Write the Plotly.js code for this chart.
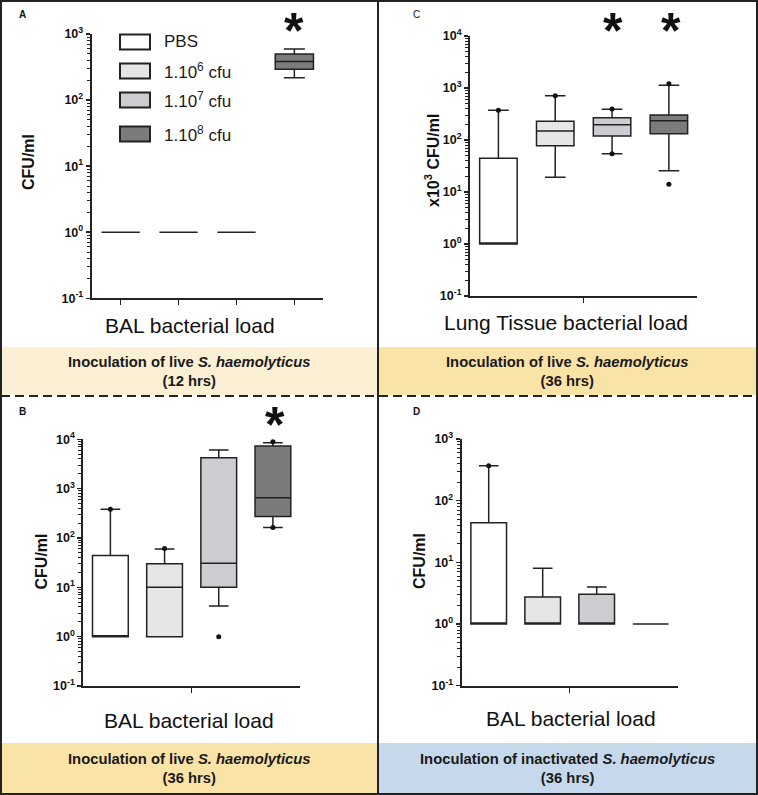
<!DOCTYPE html>
<html>
<head>
<meta charset="utf-8">
<script src="https://cdn.plot.ly/plotly-3.0.1.min.js"></script>
<style>
html,body{margin:0;padding:0;background:#fff;}
#chart{width:758px;height:795px;}
</style>
</head>
<body>
<div id="chart"></div>
<script>
// ---------- DATA ----------
const groups = ['PBS', '1.10<sup>6</sup> cfu', '1.10<sup>7</sup> cfu', '1.10<sup>8</sup> cfu'];
const groupColors = ['#FFFFFF', '#E6E6E6', '#CDCDD1', '#7B7B7B'];
const groupPos = [0, 1, 2, 3];

// Panel A: BAL, live, 12 hrs
const aQ1 = [1, 1, 1, 292];
const aMedian = [1, 1, 1, 385];
const aQ3 = [1, 1, 1, 497];
const aLow = [1, 1, 1, 218];
const aHigh = [1, 1, 1, 593];
const aDotX = [];
const aDotY = [];

// Panel B: BAL, live, 36 hrs
const bQ1 = [1, 1, 10, 274];
const bMedian = [1, 10, 30.6, 653];
const bQ3 = [44.4, 30, 4236, 7310];
const bLow = [1, 1, 4.2, 163];
const bHigh = [380, 59.6, 6070, 8500];
const bDotX = [0, 1, 2, 3, 3];
const bDotY = [380, 61, 1, 8900, 163];

// Panel C: lung tissue, live, 36 hrs (x10^3 CFU/ml)
const cQ1 = [1, 77.6, 119, 132];
const cMedian = [1, 149, 197, 235];
const cQ3 = [44.5, 229, 268, 302];
const cLow = [1, 19.2, 54.6, 25.7];
const cHigh = [373, 711, 389, 1127];
const cDotX = [0, 1, 2, 2, 3, 3];
const cDotY = [373, 711, 395, 54.6, 1211, 14.1];

// Panel D: BAL, inactivated, 36 hrs
const dQ1 = [1, 1, 1, 1];
const dMedian = [1, 1, 1, 1];
const dQ3 = [44, 2.75, 3.04, 1];
const dLow = [1, 1, 1, 1];
const dHigh = [370, 8, 4, 1];
const dDotX = [0];
const dDotY = [370];

const yTickValsA = [0.1, 1, 10, 100, 1000];
const yTickValsB = [0.1, 1, 10, 100, 1000, 10000];
const yTickText = ['10<sup>-1</sup>', '10<sup>0</sup>', '10<sup>1</sup>', '10<sup>2</sup>', '10<sup>3</sup>', '10<sup>4</sup>'];

// ---------- LAYOUT HELPERS ----------
const W = 758, H = 795;
const px = x => x / W;
const py = y => 1 - y / H;
const FONT = 'Liberation Sans, Arial, Helvetica, sans-serif';
const INK = '#222';

function minorVals(lo, hi) {
  const v = [];
  for (let k = lo; k < hi; k++) for (let m = 2; m <= 9; m++) v.push(m * Math.pow(10, k));
  return v;
}

const traces = [];
function addPanel(ax, q1, med, q3, lo, hi, dotX, dotY) {
  groupPos.forEach((g, i) => {
    traces.push({
      type: 'box', x: [g], q1: [q1[i]], median: [med[i]], q3: [q3[i]],
      lowerfence: [lo[i]], upperfence: [hi[i]],
      xaxis: 'x' + ax, yaxis: 'y' + ax,
      fillcolor: groupColors[i], line: {color: INK, width: 1.5},
      width: 0.66, whiskerwidth: 0.55, boxpoints: false,
      showlegend: false, hoverinfo: 'skip'
    });
  });
  if (dotX.length) {
    traces.push({
      type: 'scatter', mode: 'markers', x: dotX, y: dotY,
      xaxis: 'x' + ax, yaxis: 'y' + ax,
      marker: {color: '#111', size: 5}, showlegend: false, hoverinfo: 'skip', cliponaxis: false
    });
  }
}
addPanel('', aQ1, aMedian, aQ3, aLow, aHigh, aDotX, aDotY);
addPanel('2', cQ1, cMedian, cQ3, cLow, cHigh, cDotX, cDotY);
addPanel('3', bQ1, bMedian, bQ3, bLow, bHigh, bDotX, bDotY);
addPanel('4', dQ1, dMedian, dQ3, dLow, dHigh, dDotX, dDotY);

function xAxis(x0, x1, tickvals, anchor) {
  return {
    domain: [px(x0), px(x1)], range: [-0.5, 3.5], anchor: anchor,
    showgrid: false, zeroline: false, showline: true, linecolor: INK, linewidth: 2,
    ticks: 'outside', ticklen: 5, tickwidth: 1.5, tickcolor: INK,
    tickmode: 'array', tickvals: tickvals, showticklabels: false, fixedrange: true
  };
}
function yAxis(yTop, yBot, maxExp, anchor) {
  const tv = maxExp === 4 ? yTickValsB : yTickValsA;
  return {
    domain: [py(yBot), py(yTop)], type: 'log', range: [-1, maxExp], anchor: anchor,
    showgrid: false, zeroline: false, showline: true, linecolor: INK, linewidth: 2,
    ticks: 'outside', ticklen: 4, tickwidth: 1.5, tickcolor: INK,
    tickmode: 'array', tickvals: tv, ticktext: yTickText.slice(0, tv.length),
    tickfont: {family: FONT, size: 12.5, color: '#111', weight: 'bold'},
    minor: {tickmode: 'array', tickvals: minorVals(-1, maxExp), ticks: 'outside', ticklen: 3, tickwidth: 1, tickcolor: INK, showgrid: false},
    fixedrange: true
  };
}

const shapes = [];
const annotations = [];
function rect(x0, y0, x1, y1, fill, lineW, layer) {
  shapes.push({type: 'rect', xref: 'paper', yref: 'paper', x0: px(x0), x1: px(x1), y0: py(y1), y1: py(y0),
    fillcolor: fill, line: {width: lineW || 0, color: INK}, layer: layer || 'below'});
}
function text(t, x, y, opts) {
  annotations.push(Object.assign({text: t, x: px(x), y: py(y), xref: 'paper', yref: 'paper', showarrow: false,
    xanchor: 'center', yanchor: 'middle', font: {family: FONT, size: 14, color: INK}}, opts || {}));
}

// banners
rect(2, 347, 377, 395, '#FBF0D3');
rect(379, 347, 756, 395, '#FAE3A6');
rect(2, 743, 377, 793, '#FAE3A6');
rect(379, 743, 756, 793, '#C6D8EB');

// frame
shapes.push({type: 'rect', xref: 'paper', yref: 'paper', x0: px(1), x1: px(757), y0: py(794), y1: py(1), line: {color: INK, width: 2}, fillcolor: 'rgba(0,0,0,0)', layer: 'above'});
shapes.push({type: 'line', xref: 'paper', yref: 'paper', x0: px(378), x1: px(378), y0: py(794), y1: py(1), line: {color: INK, width: 2}, layer: 'above'});
shapes.push({type: 'line', xref: 'paper', yref: 'paper', x0: px(1), x1: px(757), y0: py(396), y1: py(396), line: {color: INK, width: 2, dash: '9px,5px'}, layer: 'above'});

// banner text
const bannerFont = {family: FONT, size: 14.8, color: '#1a1a1a', weight: 'bold'};
text('Inoculation of live <i>S. haemolyticus</i><br>(12 hrs)', 189, 371, {font: bannerFont});
text('Inoculation of live <i>S. haemolyticus</i><br>(36 hrs)', 567, 371, {font: bannerFont});
text('Inoculation of live <i>S. haemolyticus</i><br>(36 hrs)', 189, 768, {font: bannerFont});
text('Inoculation of inactivated <i>S. haemolyticus</i><br>(36 hrs)', 567, 768, {font: bannerFont});

// panel letters
const letterFont = {family: FONT, size: 10, color: '#111', weight: 'bold'};
text('A', 22, 15, {font: letterFont});
text('C', 416, 15, {font: {family: FONT, size: 10, color: '#111'}});
text('B', 22, 411, {font: letterFont});
text('D', 416, 411, {font: letterFont});

// axis titles
const xtFont = {family: FONT, size: 21, color: '#111'};
text('BAL bacterial load', 190, 325, {font: xtFont});
text('Lung Tissue bacterial load', 566, 322, {font: xtFont});
text('BAL bacterial load', 189, 720, {font: xtFont});
text('BAL bacterial load', 571, 718, {font: xtFont});
const ytFont = {family: FONT, size: 16, color: '#111', weight: 'bold'};
text('CFU/ml', 28.5, 162.5, {font: ytFont, textangle: -90});
text('x10<sup>3</sup> CFU/ml', 432, 161, {font: ytFont, textangle: -90});
text('CFU/ml', 41, 561.5, {font: ytFont, textangle: -90});
text('CFU/ml', 419, 561, {font: ytFont, textangle: -90});

// significance asterisks
const starFont = {family: FONT, size: 50, color: '#111', weight: 'bold'};
text('*', 294, 31, {font: starFont});
text('*', 613, 31, {font: starFont});
text('*', 671, 31, {font: starFont});
text('*', 275, 425, {font: starFont});

// legend (panel A)
const legY = [42, 71, 100, 134];
groups.forEach((g, i) => {
  rect(120, legY[i] - 7.5, 150, legY[i] + 7.5, groupColors[i], 2, 'above');
  text(g, 162, legY[i], {xanchor: 'left', font: {family: FONT, size: 17, color: '#1a1a1a'}});
});

const layout = {
  width: W, height: H, margin: {l: 0, r: 0, t: 0, b: 0},
  paper_bgcolor: '#fff', plot_bgcolor: 'rgba(0,0,0,0)',
  showlegend: false, boxmode: 'overlay',
  font: {family: FONT, color: INK},
  xaxis: xAxis(91.7, 323.3, [0, 1, 2, 3], 'y'),
  yaxis: yAxis(34, 298.3, 3, 'x'),
  xaxis2: xAxis(470, 697.3, [1.5], 'y2'),
  yaxis2: yAxis(36, 296, 4, 'x2'),
  xaxis3: xAxis(83.3, 300, [1.5], 'y3'),
  yaxis3: yAxis(439.3, 686, 4, 'x3'),
  xaxis4: xAxis(461.7, 677.7, [1.5], 'y4'),
  yaxis4: yAxis(439, 685.7, 3, 'x4'),
  shapes: shapes, annotations: annotations
};

Plotly.newPlot('chart', traces, layout, {displayModeBar: false, staticPlot: true});
</script>
</body>
</html>
